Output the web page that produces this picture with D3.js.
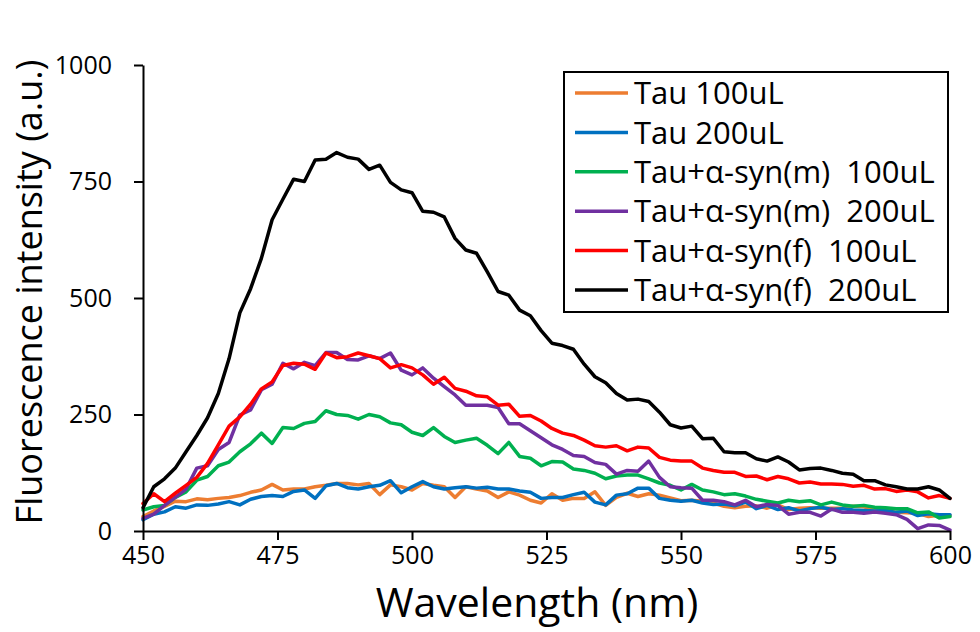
<!DOCTYPE html>
<html lang="en">
<head>
<meta charset="utf-8">
<title>Fluorescence intensity</title>
<style>
  body { margin: 0; background: #fff; }
  svg { display: block; font-family: "Open Sans", "Noto Sans", sans-serif; }
  .axis path, .axis line { stroke: #000; stroke-width: 2; }
  .axis text { font-family: "Open Sans", "Noto Sans", sans-serif; font-size: 25px; fill: #000; }
  .series { fill: none; stroke-width: 3.5; stroke-linejoin: round; stroke-linecap: round; }
</style>
</head>
<body>
<svg id="chart" width="980" height="632"></svg>
<script src="https://d3js.org/d3.v7.min.js"></script>
<script>
// wavelengths, 2 nm step
var wavelength = d3.range(450, 601, 2);

var seriesNames = ["Tau 100uL", "Tau 200uL", "Tau+α-syn(m)  100uL", "Tau+α-syn(m)  200uL", "Tau+α-syn(f)  100uL", "Tau+α-syn(f)  200uL"];
var seriesColors = ["#ED7D31", "#0070C0", "#00B050", "#7030A0", "#FF0000", "#000000"];

var tau100 = [31,43,53,64,63,69,67,70,72,76,83,88,100,88,90,90,95,98,102,102,99,102,78,99,95,88,102,98,95,72,
  95,90,86,72,84,77,66,60,80,66,70,70,84,55,72,81,74,80,77,71,65,66,64,60,53,50,53,54,49,56,
  46,49,50,49,49,49,53,52,45,45,40,39,38,31,34,34];
var tau200 = [24,36,41,52,49,56,55,58,63,56,68,74,76,74,85,88,70,97,102,93,90,95,98,108,82,95,106,95,90,93,
  95,92,94,90,90,86,83,70,72,72,78,83,62,56,77,80,92,92,70,66,64,66,60,57,58,54,62,48,55,46,
  50,43,48,51,46,48,45,44,43,44,40,43,33,37,35,35];
var synM100 = [45,52,55,72,84,109,117,140,148,170,187,210,188,222,220,231,235,258,250,248,240,250,245,232,228,212,205,222,203,190,
  195,199,184,166,190,160,156,140,149,148,133,130,124,112,118,120,120,112,103,98,88,100,88,84,78,80,75,68,64,60,
  66,63,65,56,62,56,53,55,51,50,48,48,39,41,28,31];
var synM200 = [27,36,55,72,90,135,140,175,190,249,260,303,315,360,348,362,355,383,383,368,367,376,370,382,345,335,350,328,310,292,
  270,270,270,265,230,230,215,200,185,175,162,160,147,143,122,130,128,150,115,95,93,92,66,66,63,56,66,52,57,55,
  36,40,40,32,47,40,40,38,41,38,35,25,5,13,12,2];
var synF100 = [59,80,63,81,98,115,145,185,225,245,272,305,320,355,360,358,347,382,372,374,382,376,370,350,357,350,335,315,330,306,
  300,290,288,270,272,246,248,236,220,210,205,195,183,180,183,172,180,178,158,152,150,150,135,130,126,126,117,118,110,117,
  112,103,105,101,101,100,96,98,90,91,85,88,84,71,76,70];
var synF200 = [50,95,112,135,170,205,243,295,370,468,520,585,668,712,755,750,796,798,812,802,798,776,785,748,732,726,686,684,674,628,
  603,596,556,514,506,474,462,430,403,398,390,358,331,318,295,281,283,278,255,228,221,225,198,199,170,168,168,155,150,159,
  148,131,134,135,130,124,122,108,108,99,95,90,90,95,88,70];

var seriesValues = [tau100, tau200, synM100, synM200, synF100, synF200];

var xTicks = [450, 475, 500, 525, 550, 575, 600];
var yTicks = [0, 250, 500, 750, 1000];

var svg = d3.select('#chart');

var x = d3.scaleLinear().domain([450, 600]).range([143, 950]);
var y = d3.scaleLinear().domain([0, 1000]).range([531, 65]);

// series lines, later ones on top
var line = d3.line()
  .x(function(d) { return x(d[0]); })
  .y(function(d) { return y(d[1]); });

seriesValues.forEach(function(vals, i) {
  svg.append('path')
    .attr('class', 'series')
    .attr('stroke', seriesColors[i])
    .attr('d', line(wavelength.map(function(w, j) { return [w, vals[j]]; })));
});

// axes
svg.append('g')
  .attr('class', 'axis')
  .attr('transform', 'translate(0,' + y(0) + ')')
  .call(d3.axisBottom(x).tickValues(xTicks).tickFormat(d3.format('d')).tickSize(9).tickPadding(5).tickSizeOuter(0))
  .selectAll('text').attr('dy', '0.75em');

svg.append('g')
  .attr('class', 'axis')
  .attr('transform', 'translate(' + x(450) + ',0)')
  .call(d3.axisLeft(y).tickValues(yTicks).tickFormat(d3.format('d')).tickSize(9).tickPadding(22).tickSizeOuter(0));

// axis titles
svg.append('text')
  .attr('x', 537).attr('y', 617)
  .attr('text-anchor', 'middle')
  .style('font-size', '41px')
  .text('Wavelength (nm)');

svg.append('text')
  .attr('transform', 'translate(42,292) rotate(-90)')
  .attr('text-anchor', 'middle')
  .style('font-size', '36px')
  .text('Fluorescence intensity (a.u.)');

// legend
var legend = svg.append('g').attr('transform', 'translate(564,72)');
legend.append('rect')
  .attr('width', 384).attr('height', 240)
  .attr('fill', '#fff').attr('stroke', '#000').attr('stroke-width', 2);

seriesNames.forEach(function(name, i) {
  var row = legend.append('g').attr('transform', 'translate(0,' + (21 + i * 39.4) + ')');
  row.append('line')
    .attr('x1', 11).attr('x2', 64)
    .attr('stroke', seriesColors[i]).attr('stroke-width', 3.5);
  row.append('text')
    .attr('x', 70).attr('dy', '0.36em')
    .style('font-size', '31px')
    .style('white-space', 'pre')
    .text(name);
});
</script>
</body>
</html>
